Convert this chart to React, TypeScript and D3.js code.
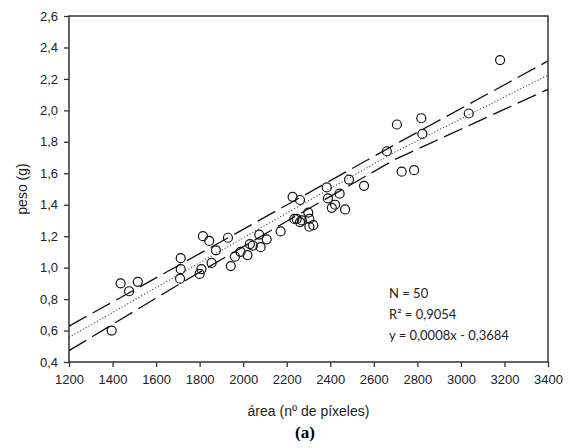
import React, { useEffect, useRef } from 'react';
import * as d3 from 'd3';

const areaPx = [1396, 1437, 1476, 1516, 1713, 1713, 1710, 1800, 1808, 1815, 1844, 1855, 1875, 1930, 1943, 1962, 1988, 2020, 2031, 2044, 2074, 2080, 2108, 2172, 2227, 2235, 2246, 2261, 2261, 2270, 2299, 2304, 2322, 2304, 2384, 2389, 2407, 2422, 2443, 2468, 2486, 2555, 2660, 2706, 2728, 2785, 2818, 2823, 3036, 3180];
const pesoG = [0.60, 0.90, 0.85, 0.91, 1.06, 0.99, 0.93, 0.96, 0.99, 1.20, 1.17, 1.03, 1.11, 1.19, 1.01, 1.07, 1.10, 1.08, 1.15, 1.14, 1.21, 1.13, 1.18, 1.23, 1.45, 1.31, 1.31, 1.43, 1.29, 1.30, 1.35, 1.31, 1.27, 1.26, 1.51, 1.44, 1.38, 1.40, 1.47, 1.37, 1.56, 1.52, 1.74, 1.91, 1.61, 1.62, 1.95, 1.85, 1.98, 2.32];

const xTicks = [1200, 1400, 1600, 1800, 2000, 2200, 2400, 2600, 2800, 3000, 3200, 3400];
const yTicks = [0.4, 0.6, 0.8, 1.0, 1.2, 1.4, 1.6, 1.8, 2.0, 2.2, 2.4, 2.6];

const lineX = [1200, 1700, 2200, 2700, 3400];
const fitY = [0.557, 0.952, 1.347, 1.737, 2.224];
const upperY = [0.628, 1.012, 1.398, 1.785, 2.314];
const lowerY = [0.472, 0.89, 1.295, 1.69, 2.134];

const statLines = ['N = 50', 'R² = 0,9054', 'y = 0,0008x - 0,3684'];
const xLabel = 'área (nº de píxeles)';
const yLabel = 'peso (g)';
const caption = '(a)';

export default function App() {
  const ref = useRef<SVGSVGElement>(null);
  useEffect(() => {
    const svg = d3.select(ref.current);
    svg.selectAll('*').remove();
    const L = 69, T = 16, R = 548, B = 362;
    const x = d3.scaleLinear().domain([1200, 3400]).range([L, R]);
    const y = d3.scaleLinear().domain([0.4, 2.6]).range([B, T]);
    const loc = d3.formatLocale({ decimal: ',', thousands: '.', grouping: [3], currency: ['', ''] });
    const fy = loc.format('.1f');
    const axisColor = '#333';
    const font = 'Liberation Sans, Arial, sans-serif';

    const gx = svg.append('g').attr('transform', `translate(0,${B})`)
      .call(d3.axisBottom(x).tickValues(xTicks).tickFormat((d: any) => String(d)).tickSize(5).tickSizeOuter(0));
    const gy = svg.append('g').attr('transform', `translate(${L},0)`)
      .call(d3.axisLeft(y).tickValues(yTicks).tickFormat((d: any) => fy(d)).tickSize(5).tickSizeOuter(0));
    [gx, gy].forEach(g => {
      g.select('.domain').remove();
      g.selectAll('line').attr('stroke', axisColor).attr('stroke-width', 1.3);
      g.selectAll('text').attr('fill', '#222').style('font-family', font).style('font-size', '13px');
    });
    gx.selectAll('text').attr('dy', '1.05em');
    gy.selectAll('text').attr('x', -11);

    svg.append('rect').attr('x', L).attr('y', T).attr('width', R - L).attr('height', B - T)
      .attr('fill', 'none').attr('stroke', axisColor).attr('stroke-width', 1.5);

    const mk = (ys: number[]) => d3.line<number>().x((_, i) => x(lineX[i])).y((d) => y(d))(ys);
    svg.append('path').attr('d', mk(upperY)!).attr('fill', 'none').attr('stroke', '#111')
      .attr('stroke-width', 1.3).attr('stroke-dasharray', '20 7');
    svg.append('path').attr('d', mk(lowerY)!).attr('fill', 'none').attr('stroke', '#111')
      .attr('stroke-width', 1.3).attr('stroke-dasharray', '20 7');
    svg.append('path').attr('d', mk(fitY)!).attr('fill', 'none').attr('stroke', '#333')
      .attr('stroke-width', 1.1).attr('stroke-dasharray', '1 2.2');

    svg.append('g').selectAll('circle').data(areaPx).join('circle')
      .attr('cx', (d) => x(d)).attr('cy', (_, i) => y(pesoG[i])).attr('r', 4.5)
      .attr('fill', 'none').attr('stroke', '#111').attr('stroke-width', 1.2);

    svg.append('g').selectAll('text').data(statLines).join('text')
      .attr('x', 389).attr('y', (_, i) => 298 + i * 21)
      .style('font-family', 'Lato, Open Sans, sans-serif').style('font-size', '13px').attr('fill', '#222')
      .text((d) => d);

    svg.append('text').attr('x', (L + R) / 2).attr('y', 416).attr('text-anchor', 'middle')
      .style('font-family', font).style('font-size', '14px').attr('fill', '#222').text(xLabel);
    svg.append('text').attr('transform', `translate(27,${(T + B) / 2}) rotate(-90)`).attr('text-anchor', 'middle')
      .style('font-family', font).style('font-size', '14px').attr('fill', '#222').text(yLabel);
    svg.append('text').attr('x', 305).attr('y', 438).attr('text-anchor', 'middle')
      .style('font-family', 'Liberation Serif, Times New Roman, serif').style('font-weight', 'bold').style('font-size', '17px')
      .attr('fill', '#000').text(caption);
  }, []);
  return <svg ref={ref} width={570} height={448} style={{ position: 'absolute', left: 0, top: 0, background: '#fff' }} />;
}
